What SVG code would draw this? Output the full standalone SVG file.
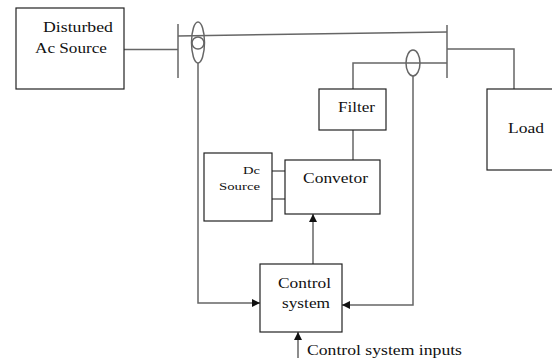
<svg xmlns="http://www.w3.org/2000/svg" width="552" height="358" viewBox="0 0 552 358">
<style>
.box{fill:#fff;stroke:#222;stroke-width:1.2}
.w{fill:none;stroke:#666;stroke-width:1.5}
text{font-family:'Liberation Serif',serif;fill:#111}
.t{font-size:15px}
.s{font-size:11px}
</style>
<defs>
<marker id="ah" viewBox="0 0 10 10" refX="10" refY="5" markerWidth="8" markerHeight="8" markerUnits="userSpaceOnUse" orient="auto">
<path d="M0,0 L10,5 L0,10 z" fill="#111"/>
</marker>
</defs>
<rect width="552" height="358" fill="#fff"/>
<g id="connectors">
<line class="w" x1="124" y1="49.5" x2="178" y2="49.5"/>
<line class="w" x1="178" y1="24" x2="178" y2="78"/>
<line class="w" x1="178" y1="36" x2="447" y2="32"/>
<ellipse class="w" cx="198" cy="42.5" rx="6.5" ry="20.5"/>
<circle class="w" cx="198" cy="43" r="6"/>
<polyline class="w" points="198,63 198,303 260,303" marker-end="url(#ah)"/>
<line class="w" x1="447" y1="25" x2="447" y2="78"/>
<polyline class="w" points="447,49 514,49 514,89"/>
<polyline class="w" points="447,63 353,63 353,89"/>
<ellipse class="w" cx="413" cy="63" rx="7" ry="13"/>
<polyline class="w" points="413,76 413,305 342,305" marker-end="url(#ah)"/>
<line class="w" x1="353" y1="130" x2="353" y2="160"/>
<line class="w" x1="272" y1="171" x2="285" y2="171"/>
<line class="w" x1="272" y1="199" x2="285" y2="199"/>
<line class="w" x1="313" y1="264" x2="313" y2="214" marker-end="url(#ah)"/>
<line class="w" x1="298" y1="358" x2="298" y2="332" marker-end="url(#ah)"/>
</g>
<g id="source">
<rect class="box" x="16" y="8" width="108" height="81"/>
<text class="t" x="43" y="32" textLength="70" lengthAdjust="spacingAndGlyphs">Disturbed</text>
<text class="t" x="35" y="53" textLength="72" lengthAdjust="spacingAndGlyphs">Ac Source</text>
</g>
<g id="load">
<rect class="box" x="487" y="89" width="80" height="81"/>
<text class="t" x="508" y="133" textLength="36" lengthAdjust="spacingAndGlyphs">Load</text>
</g>
<g id="filter">
<rect class="box" x="319" y="89" width="67" height="41"/>
<text class="t" x="338" y="112" textLength="37" lengthAdjust="spacingAndGlyphs">Filter</text>
</g>
<g id="convetor">
<rect class="box" x="285" y="160" width="95" height="54"/>
<text class="t" x="303" y="183" textLength="65" lengthAdjust="spacingAndGlyphs">Convetor</text>
</g>
<g id="dcsource">
<rect class="box" x="204" y="153" width="68" height="68"/>
<text class="s" x="243" y="174" textLength="17" lengthAdjust="spacingAndGlyphs">Dc</text>
<text class="s" x="219" y="190" textLength="41" lengthAdjust="spacingAndGlyphs">Source</text>
</g>
<g id="control">
<rect class="box" x="260" y="264" width="82" height="68"/>
<text class="t" x="278" y="288" textLength="53" lengthAdjust="spacingAndGlyphs">Control</text>
<text class="t" x="282" y="308" textLength="48" lengthAdjust="spacingAndGlyphs">system</text>
</g>
<g id="inputs">
<text class="t" x="307" y="355" textLength="155" lengthAdjust="spacingAndGlyphs">Control system inputs</text>
</g>
</svg>
